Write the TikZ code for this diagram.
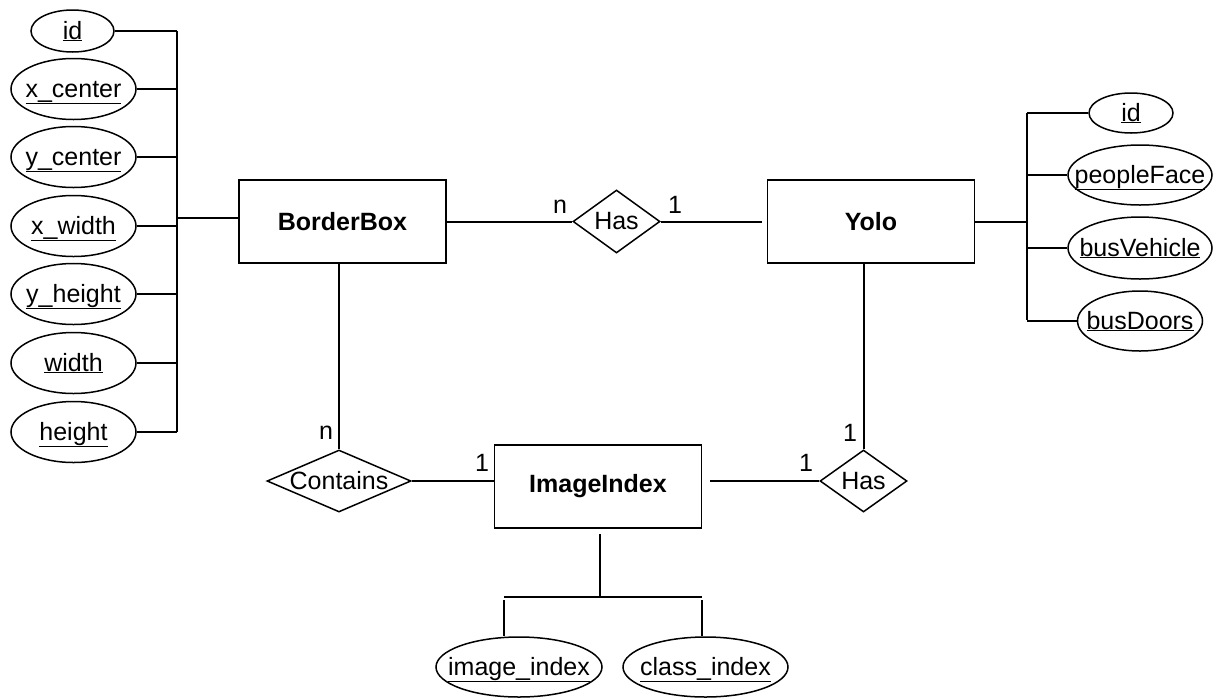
\documentclass[tikz,border=0pt]{standalone}
\usepackage{fontspec}
\setmainfont{Liberation Sans}
\usetikzlibrary{shapes.geometric}
% zero-width text so a shape keeps the size it is given
\newcommand\fixedlabel[1]{\makebox[0pt]{#1}}
% attribute names: underlined, baseline a little below the ellipse centre
\newcommand\attrlabel[1]{\makebox[0pt]{\smash{\raisebox{-8pt}{\underline{#1}}}}}
\begin{document}
\begin{tikzpicture}[x=1pt,y=-1pt,
  every node/.style={font=\fontsize{25}{29}\selectfont},
  conn/.style={line width=2pt},
  entity/.style={draw, rectangle, line width=1.9pt, inner sep=0pt,
    minimum width=207pt, minimum height=83pt,
    font=\fontsize{25}{29}\selectfont\bfseries},
  attr/.style={draw, ellipse, line width=1.5pt, inner sep=0pt},
  bigattr/.style={attr, minimum width=125pt, minimum height=61pt},
  rel/.style={draw, diamond, line width=1.5pt, inner sep=0pt},
  card/.style={inner sep=0pt}
]
\useasboundingbox (0,0) rectangle (1213,697);

% entities
\node[entity] (bb) at (342.5,221.5) {BorderBox};
\node[entity] (yolo) at (871,221.5) {Yolo};
\node[entity] (ii) at (598,486.5) {ImageIndex};

% relationships
\node[rel, minimum width=87pt, minimum height=63pt] (has1) at (616.5,221.5) {\fixedlabel{Has}};
\node[rel, minimum width=144pt, minimum height=62pt] (cont) at (339,481) {\fixedlabel{Contains}};
\node[rel, minimum width=87pt, minimum height=62pt] (has2) at (863.5,481) {\fixedlabel{Has}};

% BorderBox attributes
\node[attr, minimum width=83pt, minimum height=42pt] (bid) at (72.5,31) {\attrlabel{id}};
\node[bigattr] (xc) at (73.5,89) {\attrlabel{x\_center}};
\node[bigattr] (yc) at (73.5,157) {\attrlabel{y\_center}};
\node[bigattr] (xw) at (73.5,226) {\attrlabel{x\_width}};
\node[bigattr] (yh) at (73.5,294) {\attrlabel{y\_height}};
\node[bigattr] (wd) at (73.5,363) {\attrlabel{width}};
\node[bigattr] (ht) at (73.5,432) {\attrlabel{height}};

% Yolo attributes
\node[attr, minimum width=84pt, minimum height=40pt] (yid) at (1131,113) {\attrlabel{id}};
\node[attr, minimum width=144pt, minimum height=60pt] (pf) at (1140,175) {\attrlabel{peopleFace}};
\node[attr, minimum width=144pt, minimum height=62pt] (bv) at (1140,248) {\attrlabel{busVehicle}};
\node[attr, minimum width=125pt, minimum height=60pt] (bd) at (1140,321) {\attrlabel{busDoors}};

% ImageIndex attributes
\node[attr, minimum width=166pt, minimum height=60pt] (iidx) at (519,667) {\attrlabel{image\_index}};
\node[attr, minimum width=165pt, minimum height=60pt] (cidx) at (705.5,667) {\attrlabel{class\_index}};

% bus junctions
\coordinate (lbus) at (177,31);
\coordinate (lbusend) at (177,432);
\coordinate (lbj) at (177,218);
\coordinate (rbus) at (1027,113);
\coordinate (rbusend) at (1027,320);
\coordinate (rbj) at (1027,222);
\coordinate (bj) at (600,597);
\coordinate (bl) at (504,597);
\coordinate (br) at (702,597);

% left attribute bus
\draw[conn] (lbus) -- (lbusend);
\foreach \a in {bid,xc,yc,xw,yh,wd,ht}
  \draw[conn] (\a.east) -- (\a.east -| lbus);
\draw[conn] (lbj) -- (lbj -| bb.west);

% right attribute bus
\draw[conn] (rbus) -- (rbusend);
\foreach \a in {yid,pf,bv,bd}
  \draw[conn] (\a.west) -- (\a.west -| rbus);
\draw[conn] (rbj) -- (rbj -| yolo.east);

% bottom attribute bus
\draw[conn, shorten <=5pt] (ii.south -| bj) -- (bj);
\draw[conn] (bl) -- (br);
\draw[conn] ([yshift=-3pt]bl) -- (bl |- iidx.north);
\draw[conn] ([yshift=-3pt]br) -- (br |- cidx.north);

% relationship links
\draw[conn] (bb.east) -- (has1.west);
\draw[conn, shorten >=5pt] (has1.east) -- (yolo.west);
\draw[conn] (bb.south -| cont.north) -- (cont.north);
\draw[conn] (cont.east) -- (cont.east -| ii.west);
\draw[conn, shorten <=8pt] (has2.west -| ii.east) -- (has2.west);
\draw[conn] (yolo.south -| has2.north) -- (has2.north);

% cardinalities
\node[card] (c1) at (560,207) {n};
\node[card] (c2) at (675,205) {1};
\node[card] (c3) at (326,433) {n};
\node[card] (c4) at (482,463) {1};
\node[card] (c5) at (806,463) {1};
\node[card] (c6) at (850,433) {1};
\end{tikzpicture}
\end{document}
